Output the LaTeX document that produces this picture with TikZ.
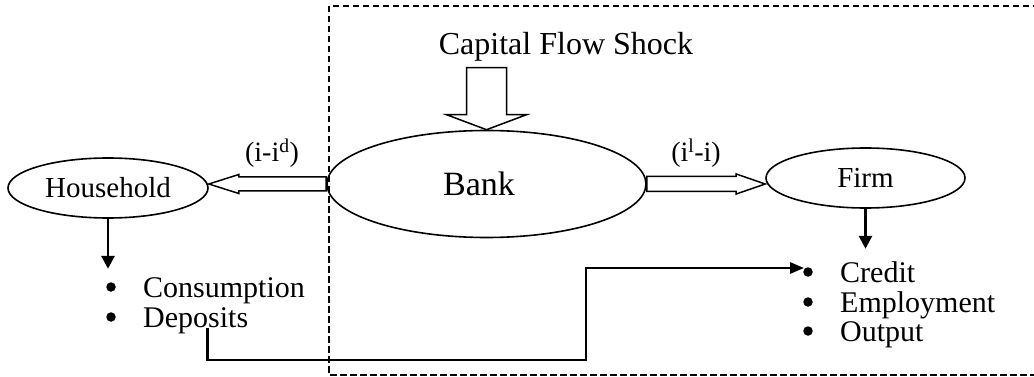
\documentclass[tikz,border=0pt]{standalone}
\usepackage{fontspec}
\setmainfont{Liberation Serif}
\usetikzlibrary{shapes.geometric,arrows.meta,calc}
\begin{document}
\begin{tikzpicture}[x=1pt,y=-1pt,
  oval/.style={ellipse,draw,line width=1.6pt,inner sep=0pt},
  blockarrow/.style={draw,fill=white,line width=1.5pt,line join=miter},
  downarrow/.style={line width=2.8pt,-{Triangle[length=13pt,width=13pt]}},
  conn/.style={line width=2.8pt,-{Triangle[length=14pt,width=11pt]}},
  dashbox/.style={line width=2.2pt,dash pattern=on 6.5pt off 3.5pt},
  bullet/.style={circle,fill,inner sep=0pt,minimum size=9.5pt},
  txt/.style={font=\fontsize{30}{32}\selectfont,inner sep=0pt,anchor=base west},
  lbl/.style={font=\fontsize{28}{30}\selectfont,inner sep=0pt,anchor=base}]
\useasboundingbox (0,0) rectangle (1034,377);
\clip (0,0) rectangle (1034,377);
\fill[white] (0,0) rectangle (1034,377);
% dashed frame
\draw[dashbox] (329,6) rectangle (1060,375);
% nodes
\node[oval,minimum width=200pt,minimum height=60pt,font=\fontsize{29}{30}\selectfont] (house) at (108,188) {Household};
\node[oval,minimum width=319pt,minimum height=107pt,font=\fontsize{34}{36}\selectfont] (bank) at (486.5,184) {Bank\hspace*{15pt}};
\node[oval,minimum width=199pt,minimum height=60pt,font=\fontsize{29}{30}\selectfont] (firm) at (865.5,178) {Firm};
\node[font=\fontsize{32}{34}\selectfont,inner sep=0pt,anchor=base] (shock) at (566,55) {Capital Flow Shock};
% labels
\node[lbl] (ld) at (272,162) {(i-i\textsuperscript{d})};
\node[lbl] (ll) at (696,162) {(i\textsuperscript{l}-i)};
% block arrows
\coordinate (tl) at (house.east |- bank.west);
\draw[blockarrow] ($(bank.west)+(0,-7)$) -- ($(tl)+(30,-7)$) -- ($(tl)+(30,-9.5)$) -- (tl)
  -- ($(tl)+(30,9.5)$) -- ($(tl)+(30,7)$) -- ($(bank.west)+(0,7)$) -- cycle;
\coordinate (tr) at (firm.west |- bank.east);
\draw[blockarrow] ($(bank.east)+(0,-7.5)$) -- ($(tr)+(-29,-7.5)$) -- ($(tr)+(-29,-10)$) -- (tr)
  -- ($(tr)+(-29,10)$) -- ($(tr)+(-29,7.5)$) -- ($(bank.east)+(0,7.5)$) -- cycle;
\coordinate (tt) at (bank.north);
\draw[blockarrow] ($(tt)+(-20,-62)$) -- ($(tt)+(20,-62)$) -- ($(tt)+(20,-15)$) -- ($(tt)+(40,-15)$)
  -- (tt) -- ($(tt)+(-40,-15)$) -- ($(tt)+(-20,-15)$) -- cycle;
% household list
\coordinate (hd) at ($(house.south)+(0,50)$);
\draw[downarrow] (house.south) -- (hd);
\node[bullet] (hb1) at (111,287) {};
\node[bullet] (hb2) at (111,317) {};
\node[txt] (cons) at (143,297) {Consumption};
\node[txt] (dep) at (143,327) {Deposits};
% firm list
\coordinate (fd) at ($(firm.south)+(0,40)$);
\draw[downarrow] (firm.south) -- (fd);
\node[bullet] (fb1) at (808,272) {};
\node[bullet] (fb2) at (808,302) {};
\node[bullet] (fb3) at (808,331) {};
\node[txt] (cred) at (840,282) {Credit};
\node[txt] (emp) at (840,312) {Employment};
\node[txt] (out) at (840,341) {Output};
% connector
\coordinate (c0) at ($(dep.base west)+(64.5,1)$);
\coordinate (turn) at (586,360);
\draw[conn,line join=miter] (c0) |- (turn) |- ($(fb1.west)+(1,-4)$);
\end{tikzpicture}
\end{document}
